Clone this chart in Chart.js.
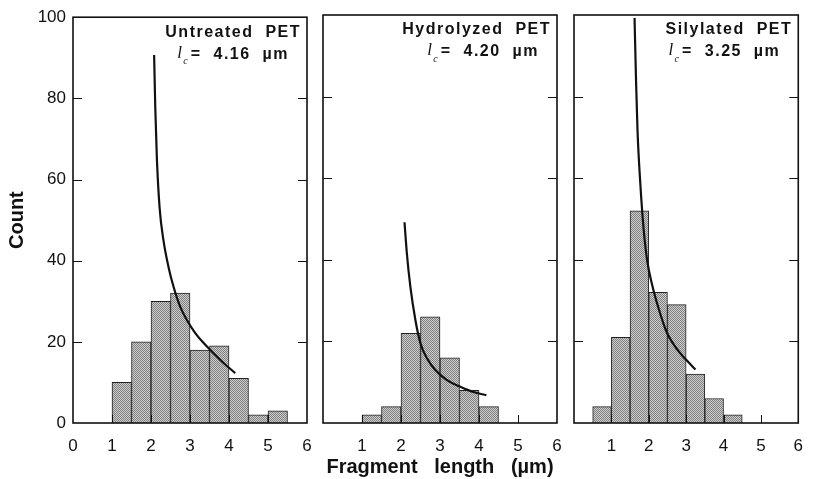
<!DOCTYPE html>
<html>
<head>
<meta charset="utf-8">
<script src="https://cdn.jsdelivr.net/npm/chart.js@4"></script>
<style>
  html, body { margin: 0; padding: 0; background: #fff; }
  #wrap { position: relative; width: 816px; height: 479px; }
  #wrap canvas { position: absolute; left: 0; top: 0; }
</style>
</head>
<body>
<div id="wrap">
  <canvas id="c1" width="816" height="479"></canvas>
  <canvas id="c2" width="816" height="479"></canvas>
  <canvas id="c3" width="816" height="479"></canvas>
</div>
<script>
// histogram bin centres (bin width 0.5 um) and counts
const untreatedBins = [1.25, 1.75, 2.25, 2.75, 3.25, 3.75, 4.25, 4.75, 5.25];
const untreatedCounts = [10, 20, 30, 32, 18, 19, 11, 2, 3];
const hydrolyzedBins = [1.25, 1.75, 2.25, 2.75, 3.25, 3.75, 4.25];
const hydrolyzedCounts = [2, 4, 22, 26, 16, 8, 4];
const silylatedBins = [0.75, 1.25, 1.75, 2.25, 2.75, 3.25, 3.75, 4.25];
const silylatedCounts = [4, 21, 52, 32, 29, 12, 6, 2];

// fitted curves
const untreatedFitX = [2.08, 2.11, 2.15, 2.22, 2.32, 2.45, 2.58, 2.75, 2.92, 3.14, 3.35, 3.52, 3.86, 4.16];
const untreatedFitY = [90.7, 77.6, 65.4, 53.1, 45.0, 38.4, 33.5, 28.6, 25.4, 22.1, 19.7, 18.0, 14.8, 12.3];
const hydrolyzedFitX = [2.09, 2.15, 2.24, 2.37, 2.50, 2.67, 2.88, 3.18, 3.52, 3.86, 4.19];
const hydrolyzedFitY = [49.2, 41.6, 33.4, 25.2, 19.5, 15.8, 13.0, 10.5, 8.9, 7.6, 6.8];
const silylatedFitX = [1.62, 1.66, 1.70, 1.77, 1.86, 1.96, 2.09, 2.26, 2.47, 2.73, 2.99, 3.25];
const silylatedFitY = [99.3, 83.8, 71.5, 59.3, 47.8, 39.7, 33.9, 28.2, 22.5, 18.4, 15.6, 13.1];

const xTicks = [0, 1, 2, 3, 4, 5, 6];
const yTicks = [0, 20, 40, 60, 80, 100];

const panelTitles = ['Untreated  PET', 'Hydrolyzed  PET', 'Silylated  PET'];
const lcValues = ['4.16', '4.20', '3.25'];

const FONT = '"Liberation Sans", Arial, Helvetica, sans-serif';

// halftone-ish stipple for the bars
function stipple() {
    const p = document.createElement('canvas');
    p.width = 2; p.height = 2;
    const g = p.getContext('2d');
    g.fillStyle = '#cdcdcd';
    g.fillRect(0, 0, 2, 2);
    g.fillStyle = '#808080';
    g.fillRect(0, 0, 1, 1);
    g.fillRect(1, 1, 1, 1);
    return g.createPattern(p, 'repeat');
}

// frame, inward ticks and the label block
const framePlugin = {
    id: 'frame',
    afterDatasetsDraw(chart, args, opts) {
        const { ctx, chartArea: a, scales } = chart;
        ctx.save();
        ctx.strokeStyle = '#111';
        ctx.lineWidth = 1;
        ctx.beginPath();
        yTicks.slice(1, -1).forEach(v => {
            const y = Math.round(scales.y.getPixelForValue(v)) + 0.5;
            ctx.moveTo(a.left, y); ctx.lineTo(a.left + 9, y);
            ctx.moveTo(a.right, y); ctx.lineTo(a.right - 9, y);
        });
        xTicks.slice(1, -1).forEach(v => {
            const x = Math.round(scales.x.getPixelForValue(v)) + 0.5;
            ctx.moveTo(x, a.bottom); ctx.lineTo(x, a.bottom - 8);
        });
        ctx.stroke();
        ctx.lineWidth = 1.6;
        ctx.strokeRect(a.left, a.top, a.right - a.left, a.bottom - a.top);

        // titles
        ctx.fillStyle = '#111';
        ctx.textBaseline = 'middle';
        ctx.textAlign = 'right';
        ctx.letterSpacing = '1.5px';
        ctx.font = 'bold 16px ' + FONT;
        ctx.fillText(opts.title, a.right - 6, a.top + 15);

        const right = a.right - 18;
        const y2 = a.top + 37;
        const rest = '=  ' + opts.lc + '  \u00b5m';
        const wRest = ctx.measureText(rest).width;
        ctx.fillText(rest, right, y2);
        ctx.letterSpacing = '0px';
        ctx.font = 'italic 10px "Liberation Serif", serif';
        const wc = ctx.measureText('c ').width;
        ctx.fillText('c', right - wRest - 3, y2 + 7);
        ctx.font = 'italic 17px "Liberation Serif", serif';
        ctx.fillText('l', right - wRest - wc - 2, y2 - 1);
        ctx.restore();
    }
};

function makePanel(id, bins, counts, fitX, fitY, idx, left, right) {
    const first = idx === 0;
    const ctx = document.getElementById(id).getContext('2d');
    const yAxisWidth = first ? 73 : 0;
    return new Chart(ctx, {
        type: 'bar',
        data: {
            datasets: [
                {
                    type: 'line',
                    data: fitX.map((x, i) => ({ x: x, y: fitY[i] })),
                    borderColor: '#111',
                    borderWidth: 2.2,
                    pointRadius: 0,
                    cubicInterpolationMode: 'monotone',
                    fill: false,
                    order: 0
                },
                {
                    type: 'bar',
                    data: bins.map((x, i) => ({ x: x, y: counts[i] })),
                    backgroundColor: stipple(),
                    borderColor: '#222',
                    borderWidth: 1,
                    barPercentage: 1,
                    categoryPercentage: 1,
                    order: 1
                }
            ]
        },
        options: {
            responsive: false,
            animation: false,
            events: [],
            layout: {
                padding: { left: left - yAxisWidth, right: 816 - right, top: 15, bottom: 0 }
            },
            plugins: {
                legend: { display: false },
                tooltip: { enabled: false },
                frame: { title: panelTitles[idx], lc: lcValues[idx] }
            },
            scales: {
                x: {
                    type: 'linear',
                    min: 0,
                    max: 6,
                    offset: false,
                    afterBuildTicks: s => { s.ticks = xTicks.map(v => ({ value: v })); },
                    afterFit: s => { s.height = 56; },
                    grid: { display: false, drawTicks: false },
                    border: { display: false },
                    ticks: {
                        padding: 13,
                        color: '#111',
                        font: { family: FONT, size: 17 },
                        callback: v => (first || v !== 0) ? String(v) : ''
                    },
                    title: {
                        display: idx === 1,
                        text: 'Fragment   length   (\u00b5m)',
                        color: '#111',
                        font: { family: FONT, size: 20, weight: 'bold' },
                        padding: { top: 0, bottom: 0 }
                    }
                },
                y: {
                    min: 0,
                    max: 100,
                    afterBuildTicks: s => { s.ticks = yTicks.map(v => ({ value: v })); },
                    afterFit: s => { s.width = yAxisWidth; },
                    grid: { display: false, drawTicks: false },
                    border: { display: false },
                    ticks: {
                        display: first,
                        padding: 7,
                        color: '#111',
                        font: { family: FONT, size: 17 }
                    },
                    title: {
                        display: first,
                        text: 'Count',
                        color: '#111',
                        font: { family: FONT, size: 20, weight: 'bold' },
                        padding: { top: 5, bottom: 0 }
                    }
                }
            }
        },
        plugins: [framePlugin]
    });
}

makePanel('c1', untreatedBins, untreatedCounts, untreatedFitX, untreatedFitY, 0, 73, 307);
makePanel('c2', hydrolyzedBins, hydrolyzedCounts, hydrolyzedFitX, hydrolyzedFitY, 1, 323, 557);
makePanel('c3', silylatedBins, silylatedCounts, silylatedFitX, silylatedFitY, 2, 574, 807);
</script>
</body>
</html>
